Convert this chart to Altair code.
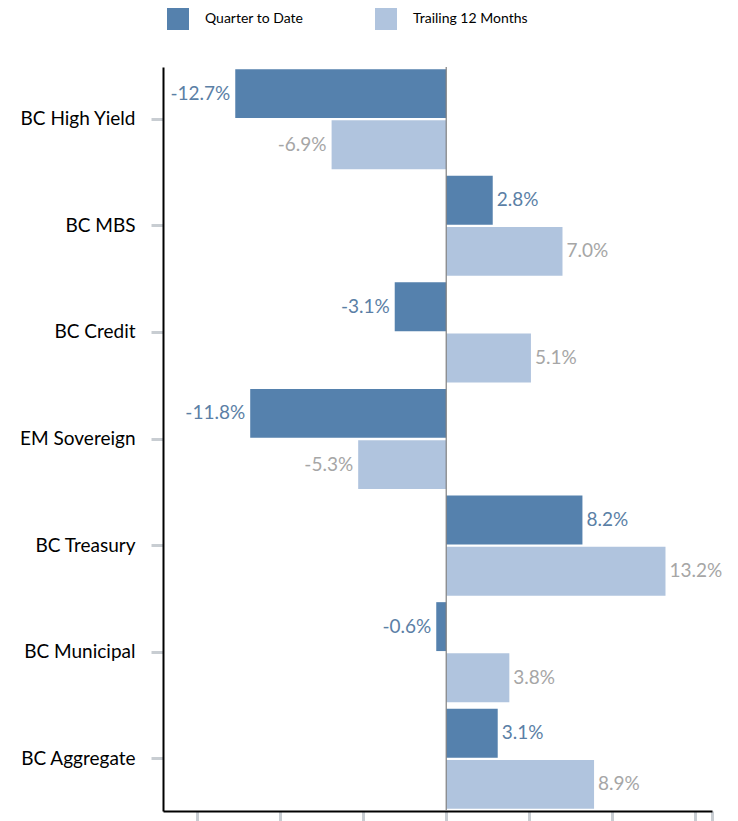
import altair as alt
import pandas as pd

categories = ["BC High Yield", "BC MBS", "BC Credit", "EM Sovereign",
              "BC Treasury", "BC Municipal", "BC Aggregate"]
qtd = [-12.7, 2.8, -3.1, -11.8, 8.2, -0.6, 3.1]
ttm = [-6.9, 7.0, 5.1, -5.3, 13.2, 3.8, 8.9]
series = ["Quarter to Date", "Trailing 12 Months"]
colors = ["#5581ad", "#b0c4de"]
label_colors = ["#5b7fa6", "#a6a6a6"]
x_ticks = [-15, -10, -5, 0, 5, 10, 15, 16]

rows = []
for i, c in enumerate(categories):
    rows.append({"cat": c, "series": series[0], "v": qtd[i], "lbl": f"{qtd[i]:.1f}%"})
    rows.append({"cat": c, "series": series[1], "v": ttm[i], "lbl": f"{ttm[i]:.1f}%"})
df = pd.DataFrame(rows)

FONT = "Lato"
xs = alt.Scale(domain=[-17.05, 16], nice=False, zero=False)
ys = alt.Scale(domain=categories, paddingInner=0.061, paddingOuter=0.02)
yo = alt.Scale(domain=series, paddingInner=0.045)

base = alt.Chart(df)

bars = base.mark_bar().encode(
    x=alt.X("v:Q", scale=xs, axis=alt.Axis(values=x_ticks, labels=False, title=None,
                                            grid=False, domainColor="black", domainWidth=2,
                                            tickColor="#c8cdd2", tickWidth=3, tickSize=10)),
    y=alt.Y("cat:N", scale=ys, sort=categories,
            axis=alt.Axis(title=None, domainColor="black", domainWidth=2,
                          tickColor="#c8cdd2", tickWidth=3, tickSize=12,
                          labelFont=FONT, labelFontSize=19, labelColor="black",
                          labelPadding=16)),
    yOffset=alt.YOffset("series:N", scale=yo),
    color=alt.Color("series:N", scale=alt.Scale(domain=series, range=colors),
                    legend=alt.Legend(title=None, orient="none", legendX=4, legendY=-59,
                                      direction="horizontal", symbolType="square",
                                      symbolSize=484, symbolStrokeWidth=0, symbolOpacity=1,
                                      labelFont=FONT, labelFontSize=14, labelColor="black",
                                      labelOffset=16, columnPadding=71, padding=0)),
)

zero = alt.Chart(pd.DataFrame({"z": [0]})).mark_rule(color="#808080", strokeWidth=1.2).encode(
    x=alt.X("z:Q", scale=xs))

txt_enc = dict(
    x=alt.X("v:Q", scale=xs),
    y=alt.Y("cat:N", scale=ys, sort=categories),
    yOffset=alt.YOffset("series:N", scale=yo),
    text="lbl:N",
    color=alt.Color("series:N", scale=alt.Scale(domain=series, range=label_colors), legend=None),
)
pos = base.transform_filter("datum.v >= 0").mark_text(
    align="left", dx=4, font=FONT, fontSize=19, baseline="middle").encode(**txt_enc)
neg = base.transform_filter("datum.v < 0").mark_text(
    align="right", dx=-5, font=FONT, fontSize=19, baseline="middle").encode(**txt_enc)

chart = alt.layer(bars, zero, pos, neg).resolve_scale(color="independent").properties(
    width=549, height=744,
    autosize=alt.AutoSizeParams(type="none"),
    padding={"left": 155, "top": 59, "right": 10, "bottom": 10},
).configure_view(stroke=None)

chart.save("out.html", embed_options={"renderer": "svg", "actions": False})
